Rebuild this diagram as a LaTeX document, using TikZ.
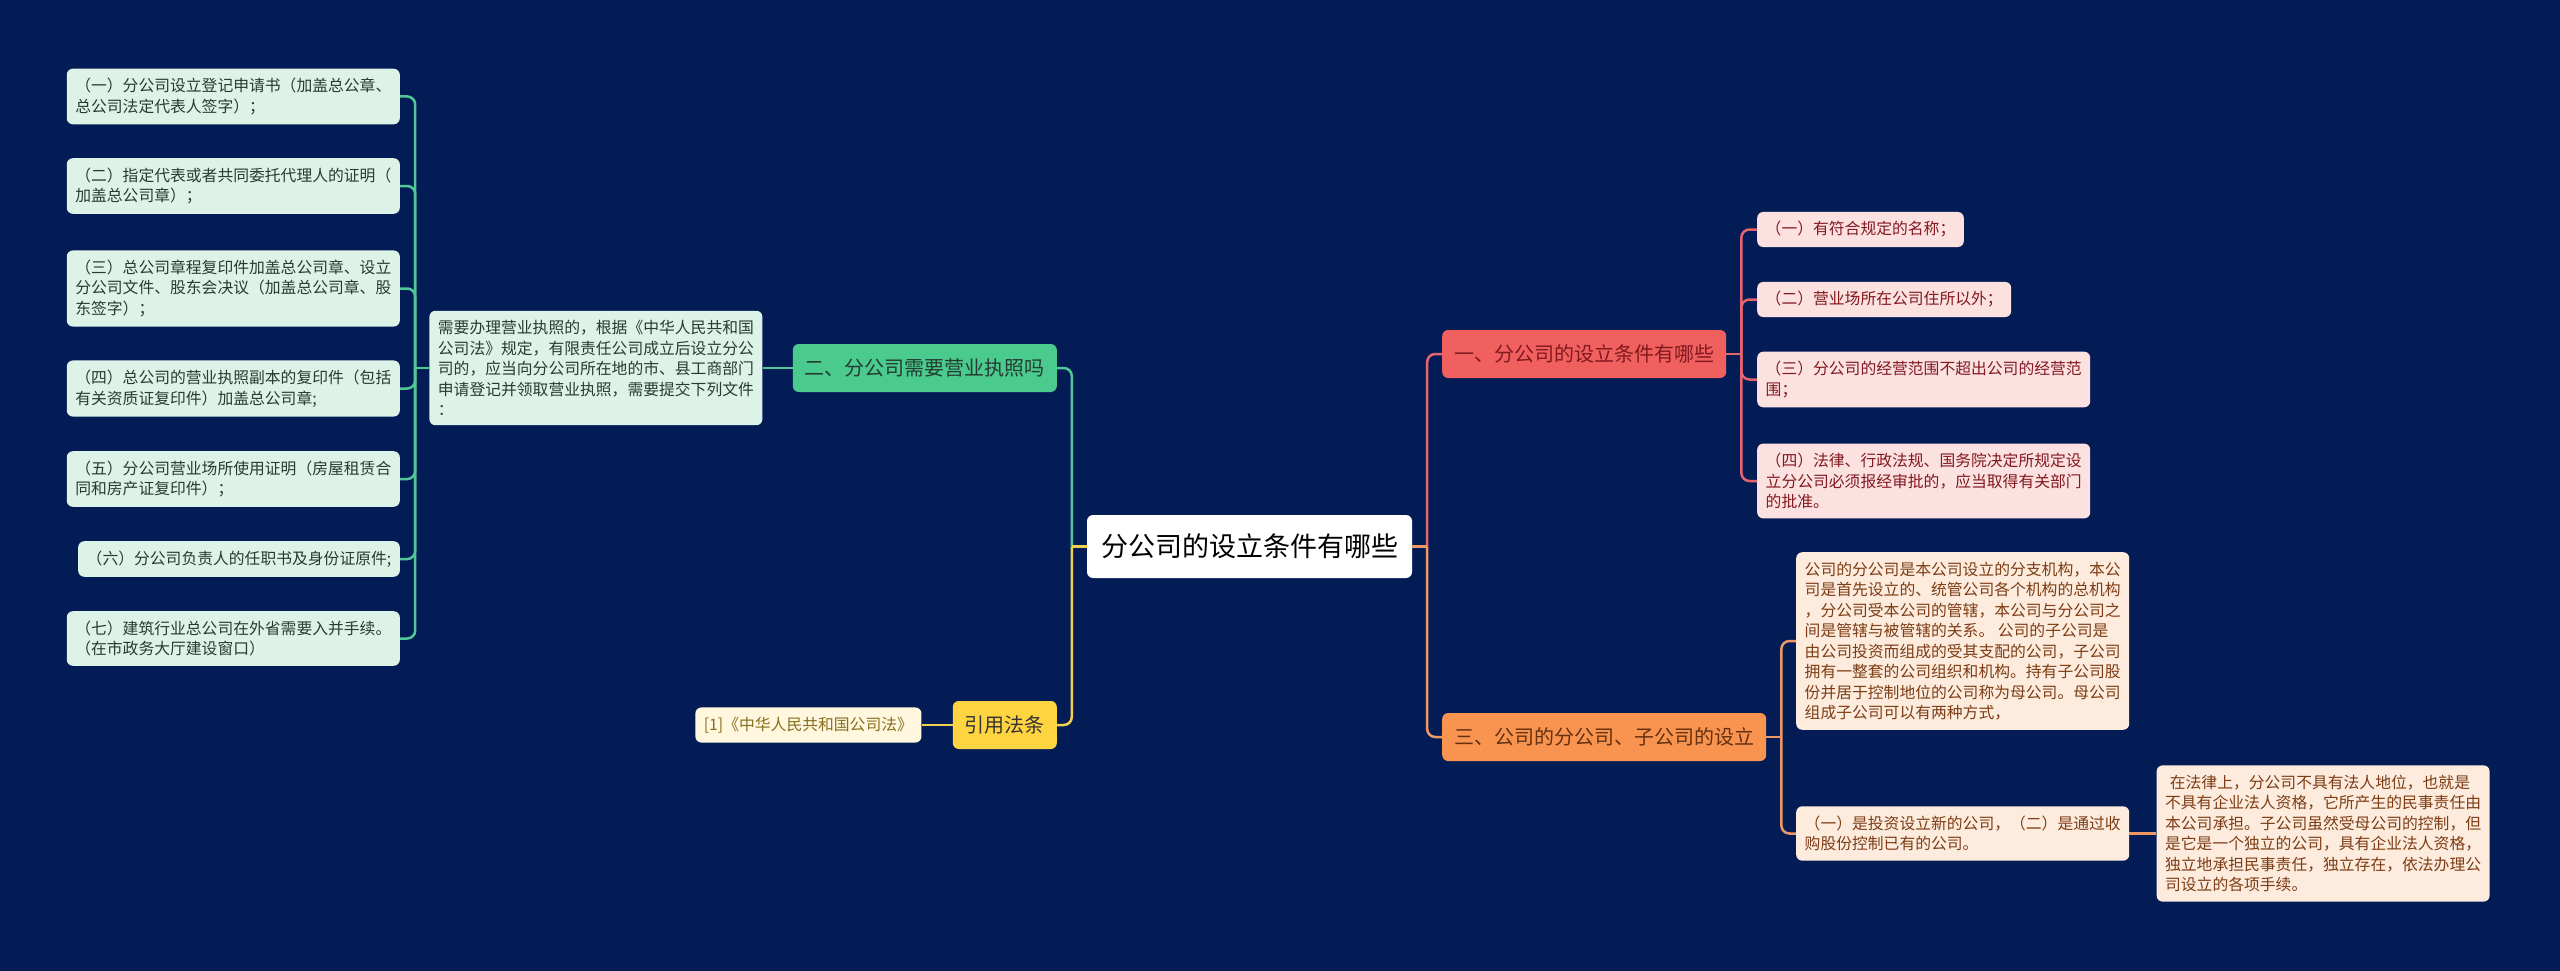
\documentclass[tikz,border=0pt]{standalone}
\usepackage{fontspec}
\setmainfont{Noto Sans CJK SC}
\usetikzlibrary{positioning}

\definecolor{bgnavy}{RGB}{4,28,86}
\definecolor{grnfill}{RGB}{74,202,141}
\definecolor{grnleaf}{RGB}{221,243,231}
\definecolor{grnline}{RGB}{80,200,150}
\definecolor{grntext}{RGB}{38,60,50}
\definecolor{redfill}{RGB}{240,96,94}
\definecolor{redleaf}{RGB}{252,225,225}
\definecolor{redline}{RGB}{230,100,110}
\definecolor{redtext}{RGB}{130,25,30}
\definecolor{orgfill}{RGB}{248,148,80}
\definecolor{orgleaf}{RGB}{253,236,222}
\definecolor{orgline}{RGB}{240,152,100}
\definecolor{orgtext}{RGB}{125,60,20}
\definecolor{ylwfill}{RGB}{254,212,64}
\definecolor{ylwleaf}{RGB}{255,247,222}
\definecolor{ylwline}{RGB}{240,210,80}
\definecolor{ylwtext}{RGB}{135,110,30}

\begin{document}
\begin{tikzpicture}[
    x=1pt, y=-1pt,
    root/.style={
        fill=white, text=black,
        rounded corners=6pt,
        font=\fontsize{27}{32}\selectfont,
        inner xsep=14pt,
        minimum height=63pt
    },
    topic/.style={
        rounded corners=6pt,
        font=\fontsize{20}{24}\selectfont,
        inner xsep=12pt,
        minimum height=48pt
    },
    leaf/.style={
        rounded corners=6pt,
        align=left,
        font=\fontsize{15.8}{20.5}\selectfont,
        inner xsep=8.5pt,
        inner ysep=9.5pt
    },
    gleaf/.style={leaf, fill=grnleaf, text=grntext},
    rleaf/.style={leaf, fill=redleaf, text=redtext},
    oleaf/.style={leaf, fill=orgleaf, text=orgtext},
    yleaf/.style={leaf, fill=ylwleaf, text=ylwtext},
    link/.style={line width=2.5pt, rounded corners=8pt},
    glink/.style={link, draw=grnline},
    rlink/.style={link, draw=redline},
    olink/.style={link, draw=orgline},
    ylink/.style={link, draw=ylwline}
]

% background
\fill[bgnavy] (0,0) rectangle (2560,971);

% ===================== ROOT =====================
\node[root] (center) at (1249.5,546.5) {分公司的设立条件有哪些};

% ===================== LEFT: LICENCE =====================
\node[topic, fill=grnfill, text=grntext, anchor=east] (license) at (1057,368)
{二、分公司需要营业执照吗};

\node[gleaf, left=30pt of license] (need)
{需要办理营业执照的，根据《中华人民共和国\\公司法》规定，有限责任公司成立后设立分公\\司的，应当向分公司所在地的市、县工商部门\\申请登记并领取营业执照，需要提交下列文件\\：};

\node[gleaf, anchor=east] (doc1) at (400,96.5)
{（一）分公司设立登记申请书（加盖总公章、\\总公司法定代表人签字）；};
\node[gleaf, anchor=east] (doc2) at (400,186)
{（二）指定代表或者共同委托代理人的证明（\\加盖总公司章）；};
\node[gleaf, anchor=east] (doc3) at (400,288.5)
{（三）总公司章程复印件加盖总公司章、设立\\分公司文件、股东会决议（加盖总公司章、股\\东签字）；};
\node[gleaf, anchor=east] (doc4) at (400,388.5)
{（四）总公司的营业执照副本的复印件（包括\\有关资质证复印件）加盖总公司章;};
\node[gleaf, anchor=east] (doc5) at (400,479)
{（五）分公司营业场所使用证明（房屋租赁合\\同和房产证复印件）；};
\node[gleaf, anchor=east] (doc6) at (400,559)
{（六）分公司负责人的任职书及身份证原件;};
\node[gleaf, anchor=east] (doc7) at (400,638.5)
{（七）建筑行业总公司在外省需要入并手续。\\（在市政务大厅建设窗口）};

% ===================== LEFT: CITATION =====================
\node[topic, fill=ylwfill, text=black!80, anchor=east] (cite) at (1057,725) {引用法条};
\node[yleaf, left=31pt of cite] (law) {[1]《中华人民共和国公司法》};

% ===================== RIGHT: CONDITIONS =====================
\node[topic, fill=redfill, text=redtext, anchor=west] (cond) at (1442,354)
{一、分公司的设立条件有哪些};

\node[rleaf, anchor=west] (req1) at (1757,229.5) {（一）有符合规定的名称；};
\node[rleaf, anchor=west] (req2) at (1757,299.5) {（二）营业场所在公司住所以外；};
\node[rleaf, anchor=west] (req3) at (1757,379.5)
{（三）分公司的经营范围不超出公司的经营范\\围；};
\node[rleaf, anchor=west] (req4) at (1757,481)
{（四）法律、行政法规、国务院决定所规定设\\立分公司必须报经审批的，应当取得有关部门\\的批准。};

% ===================== RIGHT: BRANCH / SUBSIDIARY =====================
\node[topic, fill=orgfill, text=orgtext!80!black, anchor=west] (sub) at (1442,737)
{三、公司的分公司、子公司的设立};

\node[oleaf, anchor=west] (def) at (1796,641)
{公司的分公司是本公司设立的分支机构，本公\\司是首先设立的、统管公司各个机构的总机构\\，分公司受本公司的管辖，本公司与分公司之\\间是管辖与被管辖的关系。\ 公司的子公司是\\由公司投资而组成的受其支配的公司，子公司\\拥有一整套的公司组织和机构。持有子公司股\\份并居于控制地位的公司称为母公司。母公司\\组成子公司可以有两种方式，};
\node[oleaf, anchor=west] (ways) at (1796,833.5)
{（一）是投资设立新的公司，（二）是通过收\\购股份控制已有的公司。};
\node[oleaf, right=27pt of ways] (legal)
{\hspace*{.3em}在法律上，分公司不具有法人地位，也就是\\不具有企业法人资格，它所产生的民事责任由\\本公司承担。子公司虽然受母公司的控制，但\\是它是一个独立的公司，具有企业法人资格，\\独立地承担民事责任，独立存在，依法办理公\\司设立的各项手续。};

% ===================== LINKS, LEFT =====================
\draw[glink] (center.west) -- ++(-15,0) coordinate (cl);
\draw[glink] (cl) |- (license.east);
\draw[glink] (license.west) -- (need.east);
\draw[glink] (need.west) -- ++(-14,0) coordinate (nl);
\draw[glink] (nl) |- (doc1.east);
\draw[glink] (nl) |- (doc2.east);
\draw[glink] (nl) |- (doc3.east);
\draw[glink] (nl) |- (doc4.east);
\draw[glink] (nl) |- (doc5.east);
\draw[glink] (nl) |- (doc6.east);
\draw[glink] (nl) |- (doc7.east);

\draw[ylink] (cl) |- (cite.east);
\draw[ylink] (center.west) -- (cl);
\draw[ylink] (cite.west) -- (law.east);

% ===================== LINKS, RIGHT =====================
\draw[olink] (center.east) -- ++(15,0) coordinate (cr);
\draw[rlink] (cr) |- (cond.west);
\draw[olink] (cr) |- (sub.west);
\draw[olink] (center.east) -- (cr);

\draw[rlink] (cond.east) -- ++(15,0) coordinate (rr);
\draw[rlink] (rr) |- (req1.west);
\draw[rlink] (rr) |- (req2.west);
\draw[rlink] (rr) |- (req3.west);
\draw[rlink] (rr) |- (req4.west);

\draw[olink] (sub.east) -- ++(15,0) coordinate (sr);
\draw[olink] (sr) |- (def.west);
\draw[olink] (sr) |- (ways.west);
\draw[olink] (ways.east) -- (legal.west);

\end{tikzpicture}
\end{document}
